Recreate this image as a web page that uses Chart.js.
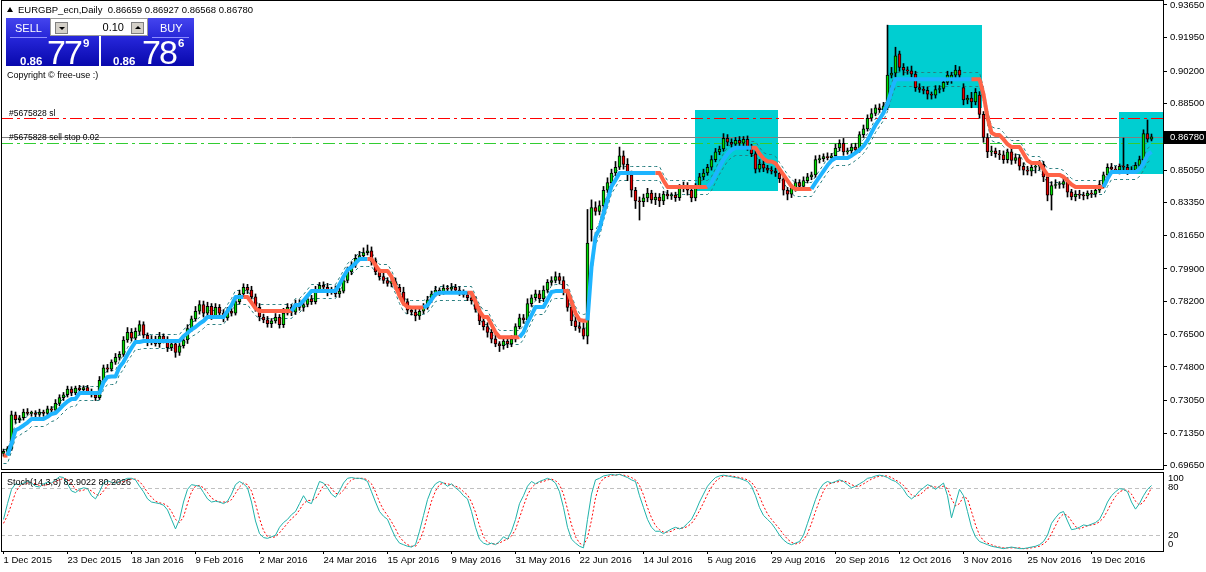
<!DOCTYPE html>
<html>
<head>
<meta charset="utf-8">
<script src="https://cdn.jsdelivr.net/npm/chart.js@4.4.1/dist/chart.umd.min.js"></script>
<style>
  body { margin: 0; background: #fff; width: 1206px; height: 572px; overflow: hidden; position: relative; }
  canvas { position: absolute; left: 0; display: block; }
  #priceChart { top: 0; }
  #stochChart { top: 470px; }
  .txt { position: absolute; font-family: "Liberation Sans", sans-serif; color: #000; white-space: nowrap; }
  #tri { position: absolute; left: 7px; top: 7px; width: 0; height: 0; border-left: 3px solid transparent; border-right: 3px solid transparent; border-bottom: 5px solid #000; }
  .tbox { position: absolute; top: 18px; width: 93px; height: 48px; background: linear-gradient(#4444ee, #2424d6 45%, #0808ac); }
  .tbox span { position: absolute; font-family: "Liberation Sans", sans-serif; color: #fff; white-space: nowrap; }
  .head { top: 4px; font-size: 11px; line-height: 12px; }
  .sep { position: absolute; top: 19px; height: 1px; width: 37px; background: #8e8eff; }
  .small { top: 37px; font-size: 11.5px; line-height: 12px; font-weight: bold; }
  .big { top: 17px; font-size: 34px; line-height: 34px; letter-spacing: -2px; }
  .sup { top: 19px; font-size: 11.5px; line-height: 12px; font-weight: bold; }
  #spin { position: absolute; left: 50px; top: 18px; width: 96px; height: 16px; background: #fff; border: 1px solid #9a9a9a; }
  .btn { position: absolute; top: 3px; width: 11px; height: 10px; background: #d4d0c8; border: 1px solid #808080; }
  .arrDown { position: absolute; left: 3px; top: 4px; width: 0; height: 0; border-left: 3px solid transparent; border-right: 3px solid transparent; border-top: 3px solid #000; }
  .arrUp { position: absolute; left: 3px; top: 3px; width: 0; height: 0; border-left: 3px solid transparent; border-right: 3px solid transparent; border-bottom: 3px solid #000; }
  #lot { position: absolute; right: 23px; top: 2px; font-family: "Liberation Sans", sans-serif; font-size: 11px; line-height: 12px; color: #000; }
</style>
</head>
<body>
<canvas id="priceChart" width="1206" height="470"></canvas>
<canvas id="stochChart" width="1206" height="102"></canvas>

<div id="tri"></div>
<div class="txt" style="left:18px;top:4px;font-size:9.5px;line-height:12px">EURGBP_ecn,Daily&nbsp; 0.86659 0.86927 0.86568 0.86780</div>

<div class="tbox" style="left:6px">
  <span class="head" style="left:9px">SELL</span>
  <div class="sep" style="left:4px"></div>
  <span class="small" style="left:14px">0.86</span>
  <span class="big" style="left:41px">77</span>
  <span class="sup" style="left:77px">9</span>
</div>
<div class="tbox" style="left:101px">
  <span class="head" style="left:59px">BUY</span>
  <div class="sep" style="left:51px"></div>
  <span class="small" style="left:12px">0.86</span>
  <span class="big" style="left:41px">78</span>
  <span class="sup" style="left:77px">6</span>
</div>
<div id="spin">
  <div class="btn" style="left:4px"><div class="arrDown"></div></div>
  <span id="lot">0.10</span>
  <div class="btn" style="left:80px"><div class="arrUp"></div></div>
</div>

<div class="txt" style="left:7px;top:69px;font-size:9px;line-height:12px">Copyright © free-use :)</div>
<div class="txt" style="left:9px;top:107px;font-size:8.5px;line-height:12px">#5675828 sl</div>
<div class="txt" style="left:9px;top:131px;font-size:8.5px;line-height:12px">#5675828 sell stop 0.02</div>
<div class="txt" style="left:7px;top:476px;font-size:9px;line-height:12px">Stoch(14,3,3) 82.9022 80.2026</div>

<script>
// daily EURGBP candles, in pips (0.0001), bar 0 = 1 Dec 2015
const openPips = [
  7030,7040,7055,7230,7205,7215,7245,7238,7240,7232,7245,7238,7262,7255,7290,7320,
  7335,7365,7345,7370,7362,7372,7350,7335,7320,7410,7475,7468,7505,7530,7545,7620,
  7660,7630,7665,7700,7645,7610,7625,7600,7640,7620,7580,7600,7555,7590,7620,7680,
  7730,7770,7805,7760,7795,7745,7790,7760,7735,7770,7760,7820,7860,7895,7880,7845,
  7790,7740,7725,7705,7720,7738,7700,7760,7790,7765,7810,7790,7805,7835,7820,7880,
  7905,7895,7870,7880,7860,7875,7930,7975,8010,8045,8060,8075,8085,8030,7975,7950,
  7930,7915,7925,7895,7870,7820,7775,7765,7745,7770,7790,7830,7860,7880,7870,7890,
  7885,7895,7880,7870,7855,7840,7825,7780,7720,7690,7660,7625,7600,7590,7615,7600,
  7625,7690,7735,7725,7810,7840,7860,7835,7880,7920,7930,7950,7930,7870,7790,7720,
  7690,7680,7640,8195,8310,8290,8320,8400,8440,8490,8520,8580,8535,8480,8400,8345,
  8340,8360,8385,8350,8365,8345,8380,8370,8375,8362,8410,8425,8400,8360,8420,8470,
  8490,8520,8560,8600,8615,8670,8650,8640,8660,8645,8665,8620,8590,8510,8535,8515,
  8505,8500,8490,8460,8400,8380,8410,8440,8420,8450,8470,8480,8560,8565,8575,8570,
  8580,8620,8645,8600,8605,8625,8610,8690,8720,8775,8800,8830,8820,8840,9000,9010,
  9110,9040,9025,9022,9005,8935,8925,8920,8900,8895,8925,8930,8962,8975,9000,9026,
  8935,8870,8880,8860,8896,8795,8675,8600,8605,8590,8585,8560,8600,8555,8570,8525,
  8505,8500,8520,8525,8535,8470,8375,8425,8430,8430,8445,8390,8365,8380,8375,8370,
  8385,8380,8400,8430,8480,8520,8510,8505,8525,8520,8500,8505,8530,8560,8695,8666
];
const closePips = [
  7040,7055,7230,7205,7215,7245,7238,7240,7232,7245,7238,7262,7255,7290,7320,7335,
  7365,7345,7370,7362,7372,7350,7335,7320,7410,7475,7468,7505,7530,7545,7620,7660,
  7630,7665,7700,7645,7610,7625,7600,7640,7620,7580,7600,7555,7590,7620,7680,7730,
  7770,7805,7760,7795,7745,7790,7760,7735,7770,7760,7820,7860,7895,7880,7845,7790,
  7740,7725,7705,7720,7738,7700,7760,7790,7765,7810,7790,7805,7835,7820,7880,7905,
  7895,7870,7880,7860,7875,7930,7975,8010,8045,8060,8075,8085,8030,7975,7950,7930,
  7915,7925,7895,7870,7820,7775,7765,7745,7770,7790,7830,7860,7880,7870,7890,7885,
  7895,7880,7870,7855,7840,7825,7780,7720,7690,7660,7625,7600,7590,7615,7600,7625,
  7690,7735,7725,7810,7840,7860,7835,7880,7920,7930,7950,7930,7870,7790,7720,7690,
  7680,7640,8125,8310,8290,8320,8400,8440,8490,8520,8580,8535,8480,8400,8345,8340,
  8360,8385,8350,8365,8345,8380,8370,8375,8362,8410,8425,8400,8360,8420,8470,8490,
  8520,8560,8600,8615,8670,8650,8640,8660,8645,8665,8620,8590,8510,8535,8515,8505,
  8500,8490,8460,8400,8380,8410,8440,8420,8450,8470,8480,8560,8565,8575,8570,8580,
  8620,8645,8600,8605,8625,8610,8690,8720,8775,8800,8830,8820,8840,9000,9010,9100,
  9040,9025,9022,9005,8935,8925,8920,8900,8895,8925,8930,8962,9000,9000,9026,9000,
  8870,8880,8860,8910,8795,8675,8600,8605,8590,8585,8560,8600,8555,8570,8525,8505,
  8500,8520,8525,8535,8470,8375,8425,8430,8430,8445,8390,8365,8380,8375,8370,8385,
  8380,8400,8430,8480,8520,8510,8505,8525,8520,8500,8505,8530,8560,8695,8666,8678
];
// wick lengths above / below the body, pips
const wickUp = [
  12,10,20,15,12,15,18,10,12,15,10,14,12,20,15,12,
  15,12,10,14,10,12,15,10,20,15,18,12,20,15,18,25,
  20,18,20,15,12,18,15,20,12,18,15,20,12,25,20,15,
  25,20,18,22,15,20,15,18,20,15,25,20,18,15,20,15,
  20,15,18,12,20,15,25,20,15,18,20,15,22,18,20,15,
  18,20,15,22,15,20,25,18,20,22,25,30,20,18,15,20,
  15,20,18,15,25,15,20,18,15,20,18,15,20,12,18,15,
  20,15,18,12,15,18,20,15,18,20,15,25,12,20,15,18,
  15,20,18,25,15,20,18,22,15,20,25,18,20,15,18,20,
  25,30,175,40,30,25,20,25,20,30,45,25,30,20,15,20,
  20,25,15,20,18,15,20,12,15,20,18,15,20,15,18,20,
  15,20,18,15,25,20,18,15,20,15,18,20,15,25,20,15,
  18,15,20,18,15,20,18,15,20,18,15,20,18,15,20,12,
  20,18,25,15,18,20,15,20,18,25,15,20,18,260,30,45,
  15,20,18,25,15,20,15,18,12,20,15,18,20,15,25,18,
  20,15,30,20,18,15,20,25,15,18,20,15,18,20,15,18,
  20,15,18,20,15,18,20,25,15,18,20,15,18,20,15,12,
  15,18,20,15,18,20,15,12,147,15,18,15,18,20,71,15
];
const wickDn = [
  15,12,10,18,15,12,10,15,12,10,15,12,18,10,12,15,
  12,15,10,12,15,10,12,15,10,12,15,10,12,15,10,12,
  15,12,18,15,20,15,12,18,15,20,15,25,15,12,18,15,
  12,15,20,15,18,12,15,20,12,15,10,12,15,18,12,20,
  20,15,18,20,12,18,15,10,18,12,15,20,12,15,12,10,
  15,20,12,15,18,10,12,15,12,10,15,12,20,15,18,15,
  15,18,12,15,20,18,15,25,18,12,10,15,12,18,12,15,
  12,15,18,12,15,18,15,20,18,25,20,15,30,18,20,15,
  15,12,18,10,15,12,20,15,12,15,12,18,15,20,25,20,
  20,15,40,60,20,18,15,12,20,15,12,25,30,35,40,95,
  25,20,18,25,30,20,15,18,20,15,18,25,20,15,12,15,
  12,15,12,15,12,18,15,12,15,18,12,15,20,15,18,15,
  15,18,20,25,30,18,15,20,15,12,15,12,18,15,12,15,
  12,15,18,12,15,18,12,15,12,15,12,15,18,20,15,20,
  20,25,18,15,20,15,18,25,20,15,18,15,12,18,15,20,
  25,20,30,15,20,25,30,20,18,25,20,18,20,15,20,25,
  20,25,30,20,25,30,78,15,20,18,25,15,20,18,20,15,
  18,15,12,18,15,12,18,20,15,18,12,15,18,12,15,9
];
// trend-stop line, pips
const trendPips = [
  7018,7018,7080,7150,7161,7175,7190,7209,7209,7209,7209,7220,7235,7240,7260,7282,
  7300,7313,7313,7344,7344,7344,7344,7344,7344,7400,7428,7430,7430,7480,7506,7545,
  7579,7610,7610,7615,7615,7615,7615,7615,7615,7615,7615,7615,7615,7640,7657,7675,
  7688,7705,7719,7740,7740,7740,7740,7740,7770,7800,7844,7844,7844,7844,7815,7785,
  7771,7771,7771,7771,7771,7771,7771,7771,7771,7803,7803,7825,7850,7875,7876,7876,
  7876,7876,7876,7876,7910,7950,7985,8000,8020,8042,8042,8042,8042,8010,7980,7980,
  7980,7950,7900,7850,7810,7792,7790,7790,7790,7790,7800,7830,7860,7866,7866,7866,
  7866,7866,7866,7866,7866,7866,7820,7770,7740,7740,7700,7660,7635,7635,7635,7635,
  7635,7635,7660,7710,7750,7792,7792,7792,7830,7870,7875,7875,7875,7875,7820,7760,
  7724,7720,7722,8000,8157,8200,8280,8350,8420,8453,8490,8490,8490,8490,8490,8490,
  8490,8490,8490,8490,8490,8450,8417,8417,8417,8417,8417,8417,8417,8417,8417,8417,
  8417,8440,8480,8520,8560,8590,8610,8622,8622,8622,8622,8622,8622,8590,8565,8550,
  8550,8540,8510,8480,8450,8420,8407,8407,8407,8407,8407,8440,8470,8500,8530,8555,
  8568,8568,8568,8568,8580,8595,8610,8630,8660,8700,8740,8770,8803,8850,8920,8978,
  8978,8978,8978,8978,8978,8978,8978,8978,8978,8978,8978,8978,8978,8978,8978,8978,
  8978,8978,8978,8978,8978,8900,8780,8700,8688,8688,8665,8640,8625,8625,8625,8590,
  8555,8542,8542,8542,8510,8480,8480,8480,8480,8470,8450,8430,8417,8417,8417,8417,
  8417,8417,8417,8417,8460,8495,8495,8495,8495,8495,8495,8495,8510,8540,8584,8600
];
// bar ranges where the trend line is in its down (orange) state
const downRanges = [[0,1],[61,72],[92,105],[117,129],[141,146],[164,176],[188,202],[243,275]];

// Stochastic(14,3,3)
const stochMain = [
  40,60,78,85,84,86,88,86,82,81,85,87,86,90,94,93,
  85,76,74,78,80,79,70,66,75,86,89,87,86,88,90,92,
  92,90,82,75,66,62,61,60,58,52,40,28,40,62,78,84,
  83,82,74,66,62,63,62,60,63,72,84,88,85,80,62,38,
  22,17,16,18,20,30,36,40,46,50,60,70,62,60,75,88,
  86,80,72,68,76,86,92,93,92,92,91,88,75,62,50,44,
  40,28,17,10,8,6,5,8,25,45,65,78,85,88,86,82,
  85,80,76,70,66,50,30,15,10,8,10,8,12,18,15,25,
  40,60,70,82,88,85,88,90,92,90,86,75,55,30,15,10,
  6,4,40,72,90,92,95,96,97,96,97,95,93,90,88,70,
  55,40,30,25,25,22,25,28,30,28,30,35,40,50,62,72,
  82,88,93,95,96,95,94,93,92,90,88,82,70,55,45,40,
  35,28,20,14,10,8,10,12,20,35,50,65,78,85,88,86,
  88,90,88,84,80,82,85,88,92,93,95,96,95,93,90,88,
  84,78,70,66,70,76,80,84,82,78,82,86,70,42,60,78,
  70,50,30,18,12,10,8,6,5,4,3,4,5,4,3,3,
  4,5,6,8,12,20,35,42,48,50,38,27,28,30,33,32,
  34,36,40,50,62,70,75,79,78,75,62,53,60,70,78,82.9
];
const stochSignal = [
  35,45,59,74,82,85,86,87,85,83,83,84,86,88,90,92,
  91,85,78,76,77,79,76,72,70,76,83,87,87,87,88,90,
  91,91,88,82,74,68,63,61,60,57,50,40,36,43,60,75,
  82,83,80,74,67,64,62,62,62,65,73,81,86,84,76,60,
  41,26,18,17,18,23,29,35,41,45,52,60,64,64,66,74,
  83,85,79,73,72,77,85,90,92,92,92,90,85,75,62,52,
  45,37,28,18,12,8,6,6,13,26,45,63,76,84,86,85,
  84,82,80,75,71,62,49,32,18,11,9,9,10,13,15,19,
  27,42,57,71,80,85,87,88,90,91,89,84,72,53,33,18,
  10,7,17,39,67,85,92,94,96,96,97,96,95,93,90,83,
  71,55,42,32,27,24,24,25,28,29,29,31,35,42,51,61,
  72,81,88,92,95,95,95,94,93,92,90,87,80,69,57,47,
  40,34,28,21,15,11,9,10,14,22,35,50,64,76,84,86,
  87,88,89,87,84,82,82,85,88,91,93,95,95,95,93,90,
  87,83,77,71,69,71,75,80,82,81,81,82,79,66,57,60,
  69,66,50,33,20,13,10,8,6,5,4,4,4,4,4,3,
  3,4,5,6,9,13,22,32,42,47,45,38,31,28,30,32,
  33,34,37,42,51,61,69,75,77,77,72,63,58,62,70,80.2
];
const stochLevels = [80, 20];
const stochLabels = [100, 80, 20, 0];

// axes
const priceTicks = [0.93650,0.91950,0.90200,0.88500,0.85050,0.83350,0.81650,0.79900,0.78200,0.76500,0.74800,0.73050,0.71350,0.69650];
const dateBars = [0,16,32,48,64,80,96,112,128,144,160,176,192,208,224,240,256,272];
const dateLabels = ['1 Dec 2015','23 Dec 2015','18 Jan 2016','9 Feb 2016','2 Mar 2016','24 Mar 2016','15 Apr 2016','9 May 2016','31 May 2016','22 Jun 2016','14 Jul 2016','5 Aug 2016','29 Aug 2016','20 Sep 2016','12 Oct 2016','3 Nov 2016','25 Nov 2016','19 Dec 2016'];

// order lines and rectangles
const slPrice = 0.8776;
const bidPrice = 0.8678;
const sellStopPrice = 0.8646;
const boxes = [ // [from bar, to bar, top price, bottom price]
  [172.8, 193.6, 0.8818, 0.8396],
  [220.9, 244.6, 0.9261, 0.8829],
  [278.9, 300, 0.8808, 0.8485]
];

const X_MIN = -0.625, X_MAX = 289.875;
const FONT = 'Liberation Sans';
const BLUE = '#1eb4ff', ORANGE = '#ff6347';

const isDown = i => downRanges.some(r => i >= r[0] && i <= r[1]);

let bodies = [], wicks = [], bodyColors = [];
for (let i = 0; i < closePips.length; i++) {
  let o = openPips[i] / 1e4, c = closePips[i] / 1e4;
  let h = Math.max(o, c) + wickUp[i] / 1e4;
  let l = Math.min(o, c) - wickDn[i] / 1e4;
  bodies.push({x: i, y: [o, c]});
  wicks.push({x: i, y: [l, h]});
  bodyColors.push(c >= o ? '#00dc00' : '#e80000');
}
const trendData = trendPips.map((v, i) => ({x: i, y: v / 1e4}));

function hLine(ctx, a, y, color, dash) {
  ctx.strokeStyle = color;
  ctx.setLineDash(dash);
  ctx.beginPath();
  ctx.moveTo(a.left, y);
  ctx.lineTo(a.right, y);
  ctx.stroke();
}

const pricePanePlugin = {
  id: 'pricePane',
  beforeDatasetsDraw(chart) {
    const {ctx, chartArea: a, scales: {x, y}} = chart;
    ctx.save();
    ctx.beginPath();
    ctx.rect(a.left, a.top, a.right - a.left, a.bottom - a.top);
    ctx.clip();
    ctx.fillStyle = '#00ced1';
    boxes.forEach(b => {
      let x1 = Math.round(x.getPixelForValue(b[0])), x2 = Math.round(x.getPixelForValue(b[1]));
      let y1 = Math.round(y.getPixelForValue(b[2])), y2 = Math.round(y.getPixelForValue(b[3]));
      ctx.fillRect(x1, y1, x2 - x1, y2 - y1);
    });
    ctx.lineWidth = 1;
    hLine(ctx, a, Math.round(y.getPixelForValue(slPrice)) + 0.5, '#ff0000', [12, 4, 3, 4]);
    hLine(ctx, a, Math.round(y.getPixelForValue(bidPrice)) + 0.5, '#808080', []);
    hLine(ctx, a, Math.round(y.getPixelForValue(sellStopPrice)) + 0.5, '#32cd32', [12, 4, 3, 4]);

    // dashed channel around the trend line
    const pts = chart.getDatasetMeta(0).data;
    ctx.strokeStyle = '#2a7f80';
    ctx.setLineDash([3, 3]);
    [-7, 7].forEach(off => {
      ctx.beginPath();
      pts.forEach((p, i) => i ? ctx.lineTo(p.x, Math.round(p.y + off) + 0.5) : ctx.moveTo(p.x, Math.round(p.y + off) + 0.5));
      ctx.stroke();
    });
    ctx.restore();
  },
  afterDraw(chart) {
    const {ctx, chartArea: a, scales: {y}} = chart;
    ctx.save();
    ctx.strokeStyle = '#000';
    ctx.lineWidth = 1;
    ctx.setLineDash([]);
    ctx.strokeRect(a.left + 0.5, 0.5, a.right - a.left, a.bottom);
    let py = Math.round(y.getPixelForValue(bidPrice));
    ctx.fillStyle = '#000';
    ctx.fillRect(a.right + 1, py - 6, 43, 13);
    ctx.fillStyle = '#fff';
    ctx.font = '9.5px "' + FONT + '"';
    ctx.textBaseline = 'middle';
    ctx.fillText(bidPrice.toFixed(5), a.right + 7, py + 0.5);
    ctx.restore();
  }
};

new Chart(document.getElementById('priceChart'), {
  type: 'bar',
  data: {
    datasets: [
      {
        type: 'line', data: trendData, borderWidth: 4, pointRadius: 0, order: 0,
        borderColor: BLUE, borderJoinStyle: 'round',
        segment: { borderColor: c => isDown(c.p1DataIndex) ? ORANGE : BLUE }
      },
      {
        data: bodies, backgroundColor: bodyColors, borderColor: '#000', borderWidth: 1,
        borderSkipped: false, barThickness: 3, minBarLength: 1, grouped: false, order: 1
      },
      {
        data: wicks, backgroundColor: '#000', borderWidth: 0,
        barThickness: 1, grouped: false, order: 2
      }
    ]
  },
  options: {
    responsive: false, animation: false, events: [],
    layout: { padding: { left: 1, top: 1, right: 0, bottom: 1 } },
    plugins: { legend: { display: false }, tooltip: { enabled: false } },
    scales: {
      x: { type: 'linear', min: X_MIN, max: X_MAX, offset: false, display: false },
      y: {
        position: 'right', min: 0.69483, max: 0.93858,
        afterFit: s => { s.width = 43; s.paddingTop = 0; s.paddingBottom = 0; },
        afterBuildTicks: s => { s.ticks = priceTicks.map(v => ({value: v})); },
        ticks: { autoSkip: false, padding: 3, color: '#000', font: { family: FONT, size: 9.5 }, callback: v => v.toFixed(5) },
        grid: { drawOnChartArea: false, tickLength: 4, color: '#000' },
        border: { display: true, color: '#000' }
      }
    }
  },
  plugins: [pricePanePlugin]
});

const stochPanePlugin = {
  id: 'stochPane',
  beforeDatasetsDraw(chart) {
    const {ctx, chartArea: a, scales: {y}} = chart;
    ctx.save();
    ctx.lineWidth = 1;
    stochLevels.forEach(v => hLine(ctx, a, Math.round(y.getPixelForValue(v)) + 0.5, '#c0c0c0', [4, 3]));
    ctx.restore();
  },
  afterDraw(chart) {
    const {ctx, chartArea: a, scales: {y}} = chart;
    ctx.save();
    ctx.strokeStyle = '#000';
    ctx.lineWidth = 1;
    ctx.setLineDash([]);
    ctx.strokeRect(a.left + 0.5, a.top + 0.5, a.right - a.left, a.bottom - a.top);
    ctx.fillStyle = '#000';
    ctx.font = '9.5px "' + FONT + '"';
    ctx.textBaseline = 'middle';
    stochLabels.forEach(v => {
      let py = Math.min(Math.max(y.getPixelForValue(v), a.top + 6), a.bottom - 7);
      ctx.fillText(String(v), a.right + 5, py);
    });
    ctx.restore();
  }
};

new Chart(document.getElementById('stochChart'), {
  type: 'line',
  data: {
    datasets: [
      { data: stochMain.map((v, i) => ({x: i, y: v})), borderColor: '#20b2aa', borderWidth: 1, pointRadius: 0 },
      { data: stochSignal.map((v, i) => ({x: i, y: v})), borderColor: '#ff0000', borderWidth: 1, borderDash: [2, 2], pointRadius: 0 }
    ]
  },
  options: {
    responsive: false, animation: false, events: [],
    layout: { padding: { left: 1, top: 2, right: 0, bottom: 0 } },
    plugins: { legend: { display: false }, tooltip: { enabled: false } },
    scales: {
      x: {
        type: 'linear', min: X_MIN, max: X_MAX, offset: false,
        afterFit: s => { s.height = 21; },
        afterBuildTicks: s => { s.ticks = dateBars.map(v => ({value: v})); },
        ticks: {
          autoSkip: false, maxRotation: 0, minRotation: 0, align: 'start', padding: 1,
          color: '#000', font: { family: FONT, size: 9.5 },
          callback: (v, i) => dateLabels[i]
        },
        grid: { drawOnChartArea: false, tickLength: 3, color: '#000' },
        border: { display: false }
      },
      y: {
        position: 'right', min: 0, max: 100,
        afterFit: s => { s.width = 43; },
        ticks: { display: false }, grid: { display: false }, border: { display: false }
      }
    }
  },
  plugins: [stochPanePlugin]
});
</script>
</body>
</html>
